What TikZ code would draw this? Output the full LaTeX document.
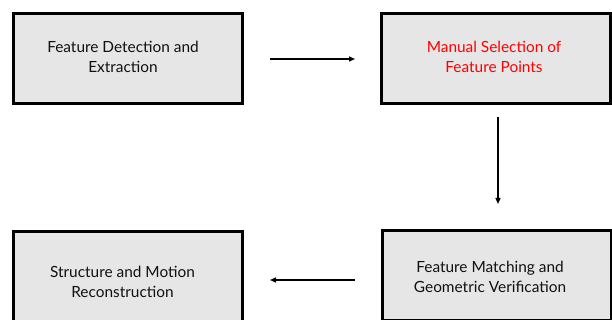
\documentclass[tikz,border=0pt]{standalone}
\usepackage{fontspec}
\setmainfont{Lato}
\usetikzlibrary{arrows.meta}
\definecolor{boxfill}{HTML}{E6E6E6}
\definecolor{txt}{HTML}{111111}
\tikzset{
  stagebox/.style={draw=black, line width=3pt, fill=boxfill,
    minimum width=229pt, minimum height=90pt, inner sep=0pt},
  stagetext/.style={align=center, inner sep=0pt,
    font=\fontsize{15.4}{20}\selectfont, text=txt},
  flow/.style={line width=1.4pt, -{Triangle[length=6pt,width=5pt]}}
}
\begin{document}
\begin{tikzpicture}[x=1pt,y=1pt]
\useasboundingbox (0,0) rectangle (612,320);
% boxes
\node[stagebox] (detect) at (128,261.5) {};
\node[stagebox] (manual) at (496,261.5) {};
\node[stagebox] (match) at (496.5,44.5) {};
\node[stagebox] (recon) at (128,43.5) {};
% labels
\node[stagetext] (detectlbl) at (123,263) {Feature Detection and\\Extraction};
\node[stagetext, text=red] (manuallbl) at (494,263) {Manual Selection of\\Feature Points};
\node[stagetext] (matchlbl) at (490,43) {Feature Matching and\\Geometric Verification};
\node[stagetext] (reconlbl) at (122.5,38) {Structure and Motion\\Reconstruction};
% connectors
\draw[flow] ([xshift=26pt]detect.east |- 0,261) -- ([xshift=-25pt]manual.west |- 0,261);
\draw[flow] ([yshift=-12pt]manual.south -| 498,0) -- ([yshift=25pt]match.north -| 498,0);
\draw[flow] ([xshift=-26pt]match.west |- 0,40) -- ([xshift=26pt]recon.east |- 0,40);
\end{tikzpicture}
\end{document}
